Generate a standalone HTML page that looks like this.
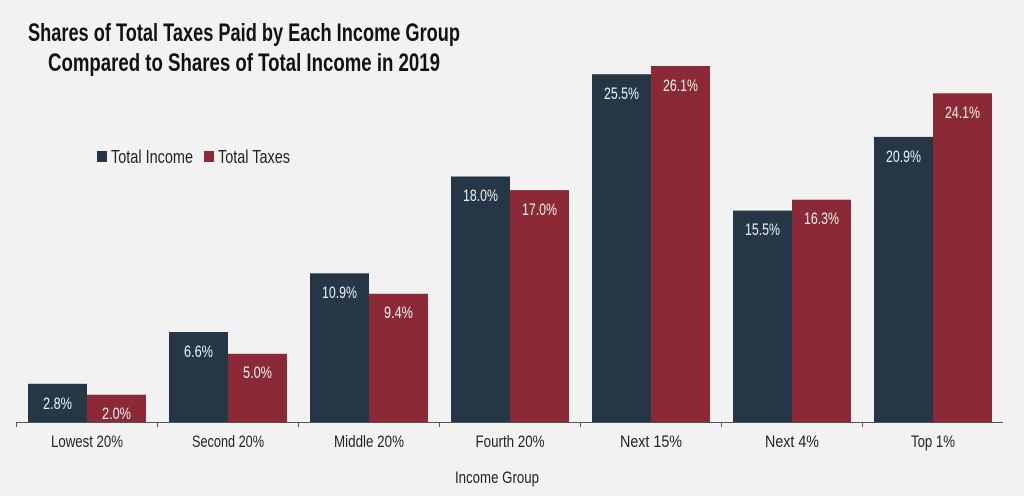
<!DOCTYPE html>
<html><head><meta charset="utf-8"><style>
html,body{margin:0;padding:0;background:#f2f2f2;}
svg{display:block;font-family:"Liberation Sans",sans-serif;}
</style></head><body>
<svg width="1024" height="496" viewBox="0 0 1024 496" xmlns="http://www.w3.org/2000/svg">
<rect width="1024" height="496" fill="#f2f2f2"/>
<text x="28" y="41" font-size="25" font-weight="bold" fill="#111" textLength="432" lengthAdjust="spacingAndGlyphs">Shares of Total Taxes Paid by Each Income Group</text>
<text x="48" y="71" font-size="25" font-weight="bold" fill="#111" textLength="392" lengthAdjust="spacingAndGlyphs">Compared to Shares of Total Income in 2019</text>
<rect x="97" y="151" width="10" height="11" fill="#253746"/>
<text x="111" y="163" font-size="18" fill="#222" textLength="82" lengthAdjust="spacingAndGlyphs">Total Income</text>
<rect x="204" y="151" width="10" height="11" fill="#8b2a36"/>
<text x="218" y="163" font-size="18" fill="#222" textLength="72" lengthAdjust="spacingAndGlyphs">Total Taxes</text>
<g fill="#253746">
<rect x="28" y="383.8" width="59" height="38.2"/>
<rect x="169" y="332" width="59" height="90"/>
<rect x="310" y="273.3" width="59" height="148.7"/>
<rect x="451" y="176.5" width="59" height="245.5"/>
<rect x="592" y="74.2" width="59" height="347.8"/>
<rect x="733" y="210.6" width="59" height="211.4"/>
<rect x="874" y="136.9" width="59" height="285.1"/>
</g>
<g fill="#8b2a36">
<rect x="87" y="394.7" width="59" height="27.3"/>
<rect x="228" y="353.8" width="59" height="68.2"/>
<rect x="369" y="293.8" width="59" height="128.2"/>
<rect x="510" y="190.1" width="59" height="231.9"/>
<rect x="651" y="66" width="59" height="356"/>
<rect x="792" y="199.7" width="59" height="222.3"/>
<rect x="933" y="93.3" width="59" height="328.7"/>
</g>
<g font-size="16.5" fill="#eef0f2" text-anchor="middle">
<text x="57.5" y="409" textLength="29" lengthAdjust="spacingAndGlyphs">2.8%</text>
<text x="198.5" y="357" textLength="29" lengthAdjust="spacingAndGlyphs">6.6%</text>
<text x="339.5" y="298" textLength="35" lengthAdjust="spacingAndGlyphs">10.9%</text>
<text x="480.5" y="201" textLength="35" lengthAdjust="spacingAndGlyphs">18.0%</text>
<text x="621.5" y="99" textLength="35" lengthAdjust="spacingAndGlyphs">25.5%</text>
<text x="762.5" y="235" textLength="35" lengthAdjust="spacingAndGlyphs">15.5%</text>
<text x="903.5" y="162" textLength="35" lengthAdjust="spacingAndGlyphs">20.9%</text>
<text x="116.5" y="419" textLength="29" lengthAdjust="spacingAndGlyphs">2.0%</text>
<text x="257.5" y="378" textLength="29" lengthAdjust="spacingAndGlyphs">5.0%</text>
<text x="398.5" y="318" textLength="29" lengthAdjust="spacingAndGlyphs">9.4%</text>
<text x="539.5" y="215" textLength="35" lengthAdjust="spacingAndGlyphs">17.0%</text>
<text x="680.5" y="91" textLength="35" lengthAdjust="spacingAndGlyphs">26.1%</text>
<text x="821.5" y="224" textLength="35" lengthAdjust="spacingAndGlyphs">16.3%</text>
<text x="962.5" y="118" textLength="35" lengthAdjust="spacingAndGlyphs">24.1%</text>
</g>
<g stroke="#555" stroke-width="1">
<line x1="16" y1="422.5" x2="1003" y2="422.5"/>
<line x1="16.5" y1="422" x2="16.5" y2="427"/>
<line x1="157.5" y1="422" x2="157.5" y2="427"/>
<line x1="298.5" y1="422" x2="298.5" y2="427"/>
<line x1="439.5" y1="422" x2="439.5" y2="427"/>
<line x1="580.5" y1="422" x2="580.5" y2="427"/>
<line x1="721.5" y1="422" x2="721.5" y2="427"/>
<line x1="862.5" y1="422" x2="862.5" y2="427"/>
</g>
<g font-size="17" fill="#222" text-anchor="middle">
<text x="87" y="447" textLength="72" lengthAdjust="spacingAndGlyphs">Lowest 20%</text>
<text x="228" y="447" textLength="72" lengthAdjust="spacingAndGlyphs">Second 20%</text>
<text x="369" y="447" textLength="70" lengthAdjust="spacingAndGlyphs">Middle 20%</text>
<text x="510" y="447" textLength="69" lengthAdjust="spacingAndGlyphs">Fourth 20%</text>
<text x="651" y="447" textLength="62" lengthAdjust="spacingAndGlyphs">Next 15%</text>
<text x="792" y="447" textLength="54" lengthAdjust="spacingAndGlyphs">Next 4%</text>
<text x="933" y="447" textLength="44" lengthAdjust="spacingAndGlyphs">Top 1%</text>
<text x="497" y="483" textLength="84" lengthAdjust="spacingAndGlyphs">Income Group</text>
</g>
</svg>
</body></html>
